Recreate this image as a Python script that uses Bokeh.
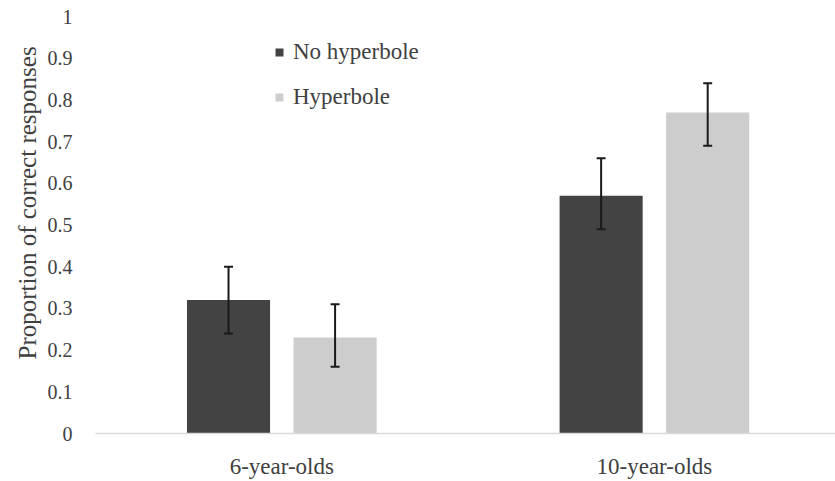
import math
from bokeh.plotting import figure
from bokeh.models import (ColumnDataSource, Whisker, TeeHead, FixedTicker, Range1d,
                          Legend, LegendItem, Title)
from bokeh.transform import dodge
from bokeh.embed import file_html
from bokeh.resources import INLINE

# ---- data ----
categories = ["6-year-olds", "10-year-olds"]
series_names = ["No hyperbole", "Hyperbole"]
no_hyp = [0.32, 0.57]
no_hyp_lo = [0.24, 0.49]
no_hyp_hi = [0.40, 0.66]
hyp = [0.23, 0.77]
hyp_lo = [0.16, 0.69]
hyp_hi = [0.31, 0.84]
y_ticks = [0, 0.1, 0.2, 0.3, 0.4, 0.5, 0.6, 0.7, 0.8, 0.9, 1]
y_tick_labels = ["0", "0.1", "0.2", "0.3", "0.4", "0.5", "0.6", "0.7", "0.8", "0.9", "1"]
y_title = "Proportion of correct responses"

FONT = "'Liberation Serif', 'Times New Roman', serif"
TXT = "#404040"

pos = [i + 0.5 for i in range(len(categories))]
src = ColumnDataSource(dict(pos=pos, cat=categories,
                            no_hyp=no_hyp, no_hyp_lo=no_hyp_lo, no_hyp_hi=no_hyp_hi,
                            hyp=hyp, hyp_lo=hyp_lo, hyp_hi=hyp_hi))

p = figure(width=835, height=481, output_backend="svg", toolbar_location=None,
           x_range=Range1d(0, 1.986), y_range=Range1d(0, 1),
           min_border_left=95, min_border_right=0, min_border_top=16, min_border_bottom=44)
p.outline_line_color = None
p.xgrid.visible = False
p.ygrid.visible = False
p.background_fill_color = "white"
p.border_fill_color = "white"

off = 0.143
bw = 0.223
r1 = p.vbar(x=dodge("pos", -off, range=p.x_range), top="no_hyp", width=bw, source=src,
            fill_color="#434343", line_color=None)
r2 = p.vbar(x=dodge("pos", off, range=p.x_range), top="hyp", width=bw, source=src,
            fill_color="#cdcdcd", line_color=None)

for base, lo, hi in [(dodge("pos", -off, range=p.x_range), "no_hyp_lo", "no_hyp_hi"),
                     (dodge("pos", off, range=p.x_range), "hyp_lo", "hyp_hi")]:
    w = Whisker(base=base, lower=lo, upper=hi, source=src, level="annotation",
                line_color="#1a1a1a", line_width=2,
                upper_head=TeeHead(size=9, line_color="#1a1a1a", line_width=2),
                lower_head=TeeHead(size=9, line_color="#1a1a1a", line_width=2))
    p.add_layout(w)

# x axis
p.xaxis.ticker = FixedTicker(ticks=pos)
p.xaxis.major_label_overrides = {pp: c for pp, c in zip(pos, categories)}
p.xaxis.major_tick_line_color = None
p.xaxis.minor_tick_line_color = None
p.xaxis.axis_line_color = "#d9d9d9"
p.xaxis.axis_line_width = 1.5
p.xaxis.major_label_text_font = FONT
p.xaxis.major_label_text_font_size = "23px"
p.xaxis.major_label_text_color = TXT
p.xaxis.major_label_standoff = 14

# y axis
p.yaxis.ticker = FixedTicker(ticks=y_ticks)
p.yaxis.major_label_overrides = {t: l for t, l in zip(y_ticks, y_tick_labels)}
p.yaxis.axis_line_color = None
p.yaxis.major_tick_line_color = None
p.yaxis.minor_tick_line_color = None
p.yaxis.major_label_text_font = FONT
p.yaxis.major_label_text_font_size = "20px"
p.yaxis.major_label_text_color = TXT
p.yaxis.major_label_standoff = 17

ytitle = Title(text=y_title, align="left", offset=74, standoff=8,
               text_font=FONT, text_font_size="25px", text_font_style="normal",
               text_color=TXT)
p.add_layout(ytitle, "left")

legend = Legend(items=[LegendItem(label=series_names[0], renderers=[r1]),
                       LegendItem(label=series_names[1], renderers=[r2])],
                location=(179, 323), orientation="vertical",
                glyph_width=10, glyph_height=10, label_standoff=9,
                label_text_font=FONT, label_text_font_size="23px", label_text_color=TXT,
                label_height=23, spacing=19, padding=0, margin=0,
                border_line_color=None, background_fill_alpha=0)
p.add_layout(legend)

open("out.html", "w").write(file_html(p, INLINE))
